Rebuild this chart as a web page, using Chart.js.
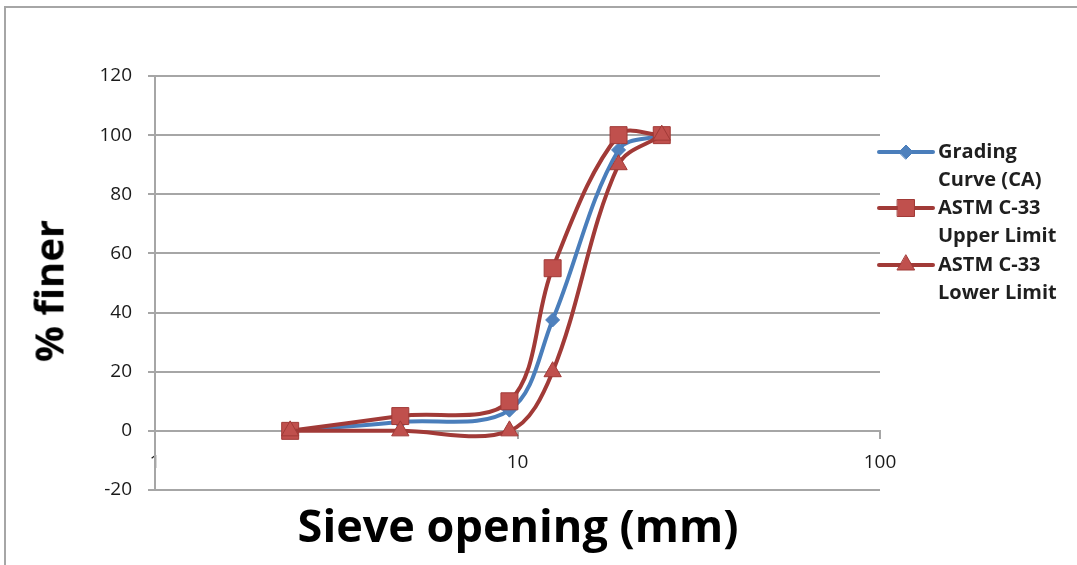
<!DOCTYPE html>
<html>
<head>
<meta charset="utf-8">
<script src="https://cdn.jsdelivr.net/npm/chart.js@4.4.1/dist/chart.umd.min.js"></script>
<style>
  html, body { margin: 0; padding: 0; background: #fff; }
  #wrap { position: relative; width: 1077px; height: 565px; overflow: hidden; }
  #frame { position: absolute; left: 4px; top: 6px; width: 1100px; height: 600px;
           border-top: 2px solid #a6a6a6; border-left: 2px solid #a6a6a6; }
  canvas { position: absolute; left: 0; top: 0; }
  .ttl { position: absolute; font-family: 'Open Sans', sans-serif; font-weight: bold;
         color: #000; white-space: nowrap; transform: translate(-50%, -50%); }
  #xTitle { left: 518px; top: 524px; font-size: 45px; }
  #yTitle { left: 48px; top: 291px; font-size: 40px; transform: translate(-50%, -50%) rotate(-90deg); }
</style>
</head>
<body>
<div id="wrap">
  <div id="frame"></div>
  <canvas id="sieve-chart" width="1077" height="565"></canvas>
  <div class="ttl" id="xTitle">Sieve opening (mm)</div>
  <div class="ttl" id="yTitle">% finer</div>
</div>
<script>
// sieve sizes (mm) and % passing
const sieveSizes = [2.36, 4.75, 9.5, 12.5, 19, 25];
const gradingCA = [0, 3, 7, 37.5, 95, 100];
const upperLimit = [0, 5, 10, 55, 100, 100];
const lowerLimit = [0, 0, 0, 20, 90, 100];
const xTickValues = [1, 10, 100];
const seriesNames = [['Grading', 'Curve (CA)'], ['ASTM C-33', 'Upper Limit'], ['ASTM C-33', 'Lower Limit']];

const toPoints = (vals) => sieveSizes.map((s, i) => ({ x: s, y: vals[i] }));

const gridGray = '#a6a6a6';
const tickFont = { family: 'Open Sans', size: 19 };

// legend drawn by hand so the names can wrap onto two lines
const wrapLegend = {
  id: 'wrapLegend',
  afterDraw(chart) {
    const ctx = chart.ctx;
    const rows = [152, 208, 265];
    chart.data.datasets.forEach((ds, i) => {
      const y = rows[i];
      ctx.save();
      ctx.strokeStyle = ds.borderColor;
      ctx.lineWidth = ds.borderWidth;
      ctx.lineCap = 'round';
      ctx.beginPath();
      ctx.moveTo(879, y);
      ctx.lineTo(933, y);
      ctx.stroke();
      ctx.fillStyle = ds.pointBackgroundColor;
      ctx.strokeStyle = ds.pointBorderColor;
      ctx.lineWidth = ds.pointBorderWidth;
      Chart.helpers.drawPoint(ctx, { pointStyle: ds.pointStyle, radius: ds.pointRadius, borderWidth: ds.pointBorderWidth, rotation: 0 }, 906, y);
      ctx.fillStyle = '#1f1f1f';
      ctx.font = 'bold 20px "Open Sans"';
      ctx.textBaseline = 'middle';
      seriesNames[i].forEach((line, j) => ctx.fillText(line, 938, y + j * 28));
      ctx.restore();
    });
  }
};

new Chart(document.getElementById('sieve-chart'), {
  type: 'line',
  data: {
    datasets: [
      {
        label: seriesNames[0].join(' '),
        data: toPoints(gradingCA),
        borderColor: '#4A7EBB',
        borderWidth: 4,
        pointStyle: 'rectRot',
        pointRadius: 7,
        pointBackgroundColor: '#4F81BD',
        pointBorderColor: '#4A7EBB',
        pointBorderWidth: 1,
        tension: 0.35,
        order: 3
      },
      {
        label: seriesNames[1].join(' '),
        data: toPoints(upperLimit),
        borderColor: '#A13A37',
        borderWidth: 4,
        pointStyle: 'rect',
        pointRadius: 12,
        pointBackgroundColor: '#C0504D',
        pointBorderColor: '#A13A37',
        pointBorderWidth: 1,
        tension: 0.35,
        order: 2
      },
      {
        label: seriesNames[2].join(' '),
        data: toPoints(lowerLimit),
        borderColor: '#A13A37',
        borderWidth: 4,
        pointStyle: 'triangle',
        pointRadius: 10,
        pointBackgroundColor: '#C0504D',
        pointBorderColor: '#A13A37',
        pointBorderWidth: 1,
        tension: 0.35,
        order: 1
      }
    ]
  },
  options: {
    responsive: false,
    animation: false,
    layout: { padding: { left: 0, top: 76, right: 197, bottom: 75 } },
    plugins: { legend: { display: false }, tooltip: { enabled: false } },
    scales: {
      x: {
        type: 'logarithmic',
        min: 1,
        max: 100,
        position: { y: 0 },
        afterBuildTicks: (s) => { s.ticks = xTickValues.map(v => ({ value: v })); },
        ticks: {
          callback: (v) => String(v),
          autoSkip: false,
          maxRotation: 0,
          padding: 13,
          color: '#1a1a1a',
          font: tickFont
        },
        grid: { drawOnChartArea: false, drawTicks: true, tickLength: 7, color: gridGray, lineWidth: 2 },
        border: { color: gridGray, width: 2 }
      },
      y: {
        min: -20,
        max: 120,
        z: -1,
        afterFit: (s) => { s.width = 155; },
        ticks: { stepSize: 20, padding: 16, color: '#1a1a1a', font: tickFont },
        grid: { color: gridGray, lineWidth: 2, tickLength: 7 },
        border: { color: gridGray, width: 2 }
      }
    }
  },
  plugins: [wrapLegend]
});
</script>
</body>
</html>
